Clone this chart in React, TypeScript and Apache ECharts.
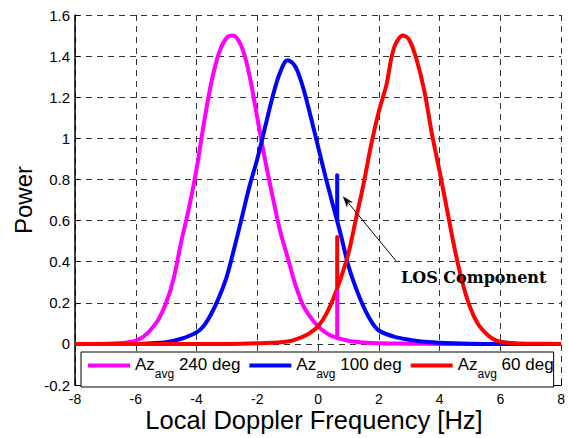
import React, { useEffect, useRef } from 'react';
import * as echarts from 'echarts';

// ---- data ----
const seriesNames = ['Az_avg 240 deg', 'Az_avg 100 deg', 'Az_avg 60 deg'];
const legendDeg = ['240 deg', '100 deg', '60 deg'];
const seriesColors = ['#FF00FF', '#0000FF', '#FF0000'];

const az240: [number, number][] = [
  [-8, 0], [-7, 0.001], [-6.5, 0.004], [-6, 0.016], [-5.75, 0.035], [-5.5, 0.07],
  [-5.25, 0.12], [-5, 0.2], [-4.75, 0.32], [-4.5, 0.5], [-4.25, 0.66], [-4, 0.85],
  [-3.75, 1.08], [-3.5, 1.28], [-3.25, 1.42], [-3, 1.49], [-2.8, 1.5], [-2.5, 1.44],
  [-2.25, 1.3], [-2, 1.1], [-1.75, 0.9], [-1.5, 0.72], [-1.25, 0.55], [-1, 0.42],
  [-0.75, 0.29], [-0.5, 0.19], [-0.25, 0.13], [0, 0.085], [0.25, 0.055], [0.5, 0.035],
  [1, 0.015], [1.5, 0.007], [2, 0.003], [3, 0.001], [4, 0], [8, 0],
];

const az100: [number, number][] = [
  [-8, 0], [-6, 0], [-5.5, 0.003], [-5, 0.008], [-4.5, 0.025], [-4, 0.056],
  [-3.75, 0.09], [-3.5, 0.15], [-3.25, 0.23], [-3, 0.33], [-2.75, 0.47], [-2.5, 0.62],
  [-2.25, 0.77], [-2, 0.9], [-1.75, 1.05], [-1.5, 1.2], [-1.25, 1.32], [-1, 1.38],
  [-0.75, 1.35], [-0.5, 1.25], [-0.25, 1.11], [0, 0.96], [0.25, 0.81], [0.5, 0.67],
  [0.75, 0.53], [1, 0.38], [1.25, 0.27], [1.5, 0.18], [1.75, 0.11], [2, 0.065],
  [2.5, 0.035], [3, 0.02], [3.5, 0.01], [4, 0.005], [5, 0.001], [6, 0], [8, 0],
];

const az60: [number, number][] = [
  [-8, 0], [-3, 0], [-2, 0.003], [-1, 0.012], [-0.5, 0.035], [-0.25, 0.055],
  [0, 0.085], [0.25, 0.14], [0.5, 0.22], [0.75, 0.32], [1, 0.44], [1.25, 0.61],
  [1.5, 0.78], [1.75, 0.97], [2, 1.13], [2.25, 1.26], [2.5, 1.44], [2.8, 1.5],
  [3, 1.48], [3.25, 1.38], [3.5, 1.23], [3.75, 1.02], [4, 0.84], [4.25, 0.65],
  [4.5, 0.46], [4.75, 0.3], [5, 0.18], [5.25, 0.1], [5.5, 0.055], [5.75, 0.025],
  [6, 0.01], [6.5, 0.003], [7, 0.001], [8, 0],
];

// LOS component spikes at one Doppler frequency
const losSpike240: [number, number][] = [[0.63, 0.03], [0.63, 0.26]];
const losSpike100: [number, number][] = [[0.63, 0.6], [0.63, 0.82]];
const losSpike60: [number, number][] = [[0.63, 0.27], [0.63, 0.52]];

// annotation arrow (data coordinates)
const arrowTail: [number, number] = [2.56, 0.405];
const arrowTip: [number, number] = [0.83, 0.716];

const xMin = -8, xMax = 8, xStep = 2;
const yMin = -0.2, yMax = 1.6, yStep = 0.2;

const FONT = 'Liberation Sans';

export default function App() {
  const ref = useRef<HTMLDivElement>(null);

  useEffect(() => {
    if (!ref.current) return;
    const chart = echarts.init(ref.current, undefined, { renderer: 'svg' });

    const curveSeries = [az240, az100, az60].map((d, i) => ({
      name: seriesNames[i],
      type: 'line',
      data: d,
      smooth: 0.35,
      showSymbol: false,
      symbol: 'none',
      color: seriesColors[i],
      lineStyle: { color: seriesColors[i], width: 4 },
      z: 2,
    }));

    const spikeSeries = [losSpike240, losSpike100, losSpike60].map((d, i) => ({
      name: 'LOS ' + i,
      type: 'line',
      data: d,
      showSymbol: false,
      symbol: 'none',
      color: seriesColors[i],
      lineStyle: { color: seriesColors[i], width: 4, cap: 'round' },
      z: 3,
    }));

    const option: any = {
      animation: false,
      backgroundColor: '#fff',
      grid: { left: 75, top: 15, right: 1, bottom: 53, containLabel: false },
      xAxis: {
        type: 'value',
        min: xMin,
        max: xMax,
        interval: xStep,
        axisLine: { show: true, onZero: false, lineStyle: { color: '#000', width: 1 } },
        axisTick: { show: true, inside: true, length: 5, lineStyle: { color: '#000' } },
        axisLabel: { color: '#000', fontFamily: FONT, fontSize: 14, margin: 7 },
        splitLine: { show: true, lineStyle: { color: '#333', width: 1, type: [6, 5] } },
      },
      yAxis: {
        type: 'value',
        min: yMin,
        max: yMax,
        interval: yStep,
        axisLine: { show: true, onZero: false, lineStyle: { color: '#000', width: 1.5 } },
        axisTick: { show: true, inside: true, length: 5, lineStyle: { color: '#000' } },
        axisLabel: {
          color: '#000',
          fontFamily: FONT,
          fontSize: 15,
          margin: 5,
          formatter: (v: number) => String(Math.round(v * 10) / 10),
        },
        splitLine: { show: true, lineStyle: { color: '#333', width: 1, type: [6, 5] } },
      },
      legend: {
        data: seriesNames,
        left: 81,
        top: 352,
        orient: 'horizontal',
        icon: 'rect',
        itemWidth: 42,
        itemHeight: 4,
        itemGap: 9,
        padding: [4, 0, 7, 7],
        backgroundColor: '#fff',
        borderColor: '#000',
        borderWidth: 1,
        borderRadius: 0,
        selectedMode: false,
        z: 10,
        textStyle: {
          color: '#000',
          fontFamily: FONT,
          fontSize: 17,
          rich: {
            a: { fontFamily: FONT, fontSize: 17, lineHeight: 19, verticalAlign: 'top', color: '#000' },
            s: {
              fontFamily: FONT,
              fontSize: 12,
              lineHeight: 12,
              padding: [12, 0, 0, 0],
              verticalAlign: 'top',
              color: '#000',
            },
          },
        },
        formatter: (name: string) => {
          const i = seriesNames.indexOf(name);
          return `{a|Az}{s|avg}{a| ${legendDeg[i]}}`;
        },
      },
      graphic: [
        {
          id: 'ytitle',
          type: 'text',
          x: 23,
          y: 200,
          rotation: Math.PI / 2,
          style: {
            text: 'Power',
            fontFamily: FONT,
            fontSize: 24,
            fill: '#000',
            align: 'center',
            verticalAlign: 'middle',
          },
        },
        {
          id: 'xtitle',
          type: 'text',
          x: 314,
          y: 420,
          style: {
            text: 'Local Doppler Frequency [Hz]',
            fontFamily: FONT,
            fontSize: 25.5,
            fill: '#000',
            align: 'center',
            verticalAlign: 'middle',
          },
        },
        {
          id: 'los',
          type: 'text',
          x: 401,
          y: 277,
          z: 20,
          style: {
            text: 'LOS Component',
            fontFamily: 'DejaVu Serif',
            fontWeight: 'bold',
            fontSize: 16,
            fill: '#000',
            align: 'left',
            verticalAlign: 'middle',
          },
        },
      ],
      series: [...curveSeries, ...spikeSeries],
    };

    chart.setOption(option);

    // arrow annotation placed through the chart's own coordinate system
    const p1 = chart.convertToPixel({ gridIndex: 0 }, arrowTail) as number[];
    const p2 = chart.convertToPixel({ gridIndex: 0 }, arrowTip) as number[];
    if (p1 && p2) {
      const dx = p2[0] - p1[0];
      const dy = p2[1] - p1[1];
      const len = Math.sqrt(dx * dx + dy * dy);
      const ux = dx / len, uy = dy / len;
      const nx = -uy, ny = ux;
      const headLen = 10, headW = 3.5, notch = 7;
      const base = [p2[0] - ux * headLen, p2[1] - uy * headLen];
      const notchPt = [p2[0] - ux * notch, p2[1] - uy * notch];
      chart.setOption({
        graphic: [
          {
            id: 'arrowLine',
            type: 'line',
            z: 20,
            shape: { x1: p1[0], y1: p1[1], x2: notchPt[0], y2: notchPt[1] },
            style: { stroke: '#000', lineWidth: 1 },
          },
          {
            id: 'arrowHead',
            type: 'polygon',
            z: 20,
            shape: {
              points: [
                [p2[0], p2[1]],
                [base[0] + nx * headW, base[1] + ny * headW],
                [notchPt[0], notchPt[1]],
                [base[0] - nx * headW, base[1] - ny * headW],
              ],
            },
            style: { fill: '#000', stroke: '#000', lineWidth: 0.5 },
          },
        ],
      });
    }

    return () => chart.dispose();
  }, []);

  return (
    <div
      ref={ref}
      style={{ position: 'absolute', left: 0, top: 0, width: 568, height: 438, background: '#fff' }}
    />
  );
}
